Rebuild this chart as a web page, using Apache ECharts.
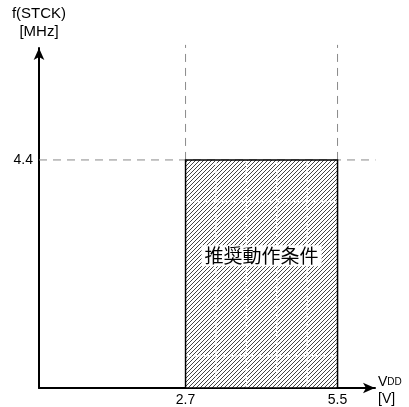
<!DOCTYPE html>
<html><head><meta charset="utf-8">
<script src="https://cdn.jsdelivr.net/npm/echarts@6/dist/echarts.min.js"></script>
<style>html,body{margin:0;padding:0;background:#fff}#c{width:409px;height:407px}</style>
</head><body><div id="c"></div>
<script>
// data
const vddRange = [2.7, 5.5];
const fMax = 4.4;
const xTickLabels = [2.7, 5.5];
const yTickLabels = [4.4];
const innerGridX = [3.26, 3.82, 4.38, 4.94];
const innerGridY = [3.6, 0.62];
const regionLabel = '推奨動作条件';
const xMax = 6.19, yMax = 6.56;
const guideTop = 6.62, guideRight = 6.2;

// hatch pattern
const pc = document.createElement('canvas');
pc.width = 4; pc.height = 4;
const g = pc.getContext('2d');
g.fillStyle = '#fff'; g.fillRect(0,0,4,4);
g.strokeStyle = '#444'; g.lineWidth = 1;
g.beginPath();
g.moveTo(-1,5); g.lineTo(5,-1);
g.moveTo(-1,1); g.lineTo(1,-1);
g.moveTo(3,5); g.lineTo(5,3);
g.stroke();

const chart = echarts.init(document.getElementById('c'), null, {renderer:'canvas'});
const font = 'Arial';
const guideStyle = {color:'#8a8a8a', width:1, type:[8,6]};

chart.setOption({
  animation:false,
  grid:{left:39, right:409-375, top:48, bottom:407-388},
  xAxis:{type:'value', min:0, max:xMax,
    axisLine:{show:true, lineStyle:{color:'#000', width:2}, symbol:['none','arrow'], symbolSize:[8,12]},
    axisTick:{show:false}, splitLine:{show:false},
    axisLabel:{customValues:xTickLabels, formatter:v=>v.toFixed(1), color:'#000', fontFamily:font, fontSize:14, margin:5},
    name:'{a|V}{b|DD}\n{a|[V]}', nameLocation:'end', nameGap:3,
    nameTextStyle:{rich:{a:{fontFamily:font, fontSize:14, color:'#000', lineHeight:17},b:{fontFamily:font, fontSize:10, color:'#000', lineHeight:17}}, align:'left', verticalAlign:'top', padding:[-14,0,0,0]}
  },
  yAxis:{type:'value', min:0, max:yMax,
    axisLine:{show:true, lineStyle:{color:'#000', width:2}, symbol:['none','arrow'], symbolSize:[8,12]},
    axisTick:{show:false}, splitLine:{show:false},
    axisLabel:{customValues:yTickLabels, formatter:v=>v.toFixed(1), color:'#000', fontFamily:font, fontSize:14, margin:6},
    name:'f(STCK)\n[MHz]', nameLocation:'end', nameGap:7,
    nameTextStyle:{fontFamily:font, fontSize:15, color:'#000', lineHeight:18, align:'center'}
  },
  series:[
    {type:'custom', coordinateSystem:'cartesian2d', clip:false, z:1,
      data:[[vddRange[0], vddRange[1], fMax]],
      encode:{x:[0,1], y:2},
      renderItem:(params, api)=>{
        const p0 = api.coord([api.value(0), 0]);
        const p1 = api.coord([api.value(1), api.value(2)]);
        const x = p0[0], y = p1[1], w = p1[0]-p0[0], h = p0[1]-p1[1];
        const children = [
          {type:'rect', shape:{x, y, width:w, height:h}, style:{fill:{image:pc, repeat:'repeat'}, stroke:null}}
        ];
        innerGridX.forEach(v=>{
          const px = api.coord([v,0])[0];
          children.push({type:'line', shape:{x1:px, y1:y, x2:px, y2:y+h}, style:{stroke:'#fff', lineWidth:1.5, lineDash:[6,3]}});
        });
        innerGridY.forEach(v=>{
          const py = api.coord([0,v])[1];
          children.push({type:'line', shape:{x1:x, y1:py, x2:x+w, y2:py}, style:{stroke:'#fff', lineWidth:1.5, lineDash:[6,3]}});
        });
        children.push({type:'rect', shape:{x, y, width:w, height:h}, style:{fill:null, stroke:'#000', lineWidth:1.5}});
        children.push({type:'text', x:x+w/2, y:y+h*0.42, style:{text:regionLabel, fontFamily:'Noto Sans CJK JP', fontSize:19, fill:'#000', align:'center', verticalAlign:'middle', backgroundColor:'#fff', padding:[1,3,1,3]}});
        return {type:'group', children};
      }
    },
    {type:'line', clip:false, symbol:'none', silent:true, z:0, lineStyle:guideStyle,
      data:[[vddRange[0], fMax],[vddRange[0], guideTop]]},
    {type:'line', clip:false, symbol:'none', silent:true, z:0, lineStyle:guideStyle,
      data:[[vddRange[1], fMax],[vddRange[1], guideTop]]},
    {type:'line', clip:false, symbol:'none', silent:true, z:0, lineStyle:guideStyle,
      data:[[0, fMax],[guideRight, fMax]]}
  ]
});
</script></body></html>
